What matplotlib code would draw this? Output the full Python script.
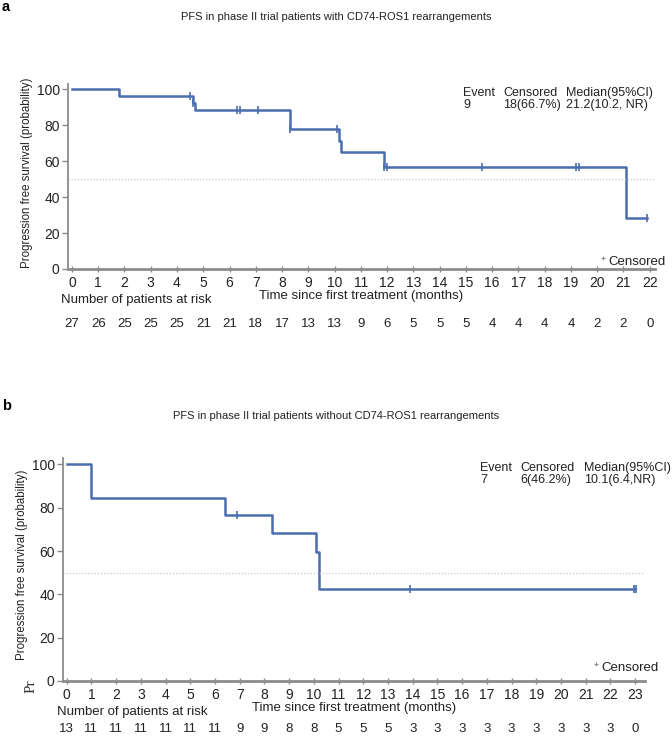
import matplotlib.pyplot as plt

plt.rcParams['font.family'] = ['Liberation Sans', 'DejaVu Sans']

# ---- panel a data ----
a_times = [0, 1.8, 4.6, 4.7, 8.3, 10.15, 10.25, 11.9, 21.1, 21.9]
a_surv = [100, 96.3, 92.3, 88.3, 77.9, 71.4, 64.9, 56.8, 28.4, 28.4]
a_cens_t = [4.5, 4.6, 6.3, 6.4, 7.1, 8.3, 10.1, 11.9, 12.0, 15.6, 19.2, 19.3, 21.9]
a_cens_s = [96.3, 92.3, 88.3, 88.3, 88.3, 77.9, 77.9, 56.8, 56.8, 56.8, 56.8, 56.8, 28.4]
a_months = list(range(0, 23))
a_risk = [27, 26, 25, 25, 25, 21, 21, 18, 17, 13, 13, 9, 6, 5, 5, 5, 4, 4, 4, 4, 2, 2, 0]

# ---- panel b data ----
b_times = [0, 1.0, 6.4, 8.3, 10.1, 10.2, 23.0]
b_surv = [100, 84.6, 76.9, 68.4, 59.8, 42.7, 42.7]
b_cens_t = [6.9, 13.9, 22.95, 23.05]
b_cens_s = [76.9, 42.7, 42.7, 42.7]
b_months = list(range(0, 24))
b_risk = [13, 11, 11, 11, 11, 11, 11, 9, 9, 8, 8, 5, 5, 5, 3, 3, 3, 3, 3, 3, 3, 3, 3, 0]

W, H = 672, 739
fig = plt.figure(figsize=(W / 100, H / 100), dpi=100)
blue = '#4a6db0'
grey = '#8c8c8c'
ink = '#222222'
PT = 0.72  # points per pixel at 100 dpi


def px_axes(l, t, r, b):
    return fig.add_axes([l / W, 1 - b / H, (r - l) / W, (b - t) / H])


def below(ax, x, dy_px, s, ha='center'):
    ax.annotate(s, (x, 0), xycoords=('data', 'axes fraction'), xytext=(0, -dy_px * PT),
                textcoords='offset points', ha=ha, va='center', fontsize=9.5, color=ink,
                annotation_clip=False)


def panel(ax, times, surv, ct, cs, months, risk, xmax, ylab_x, offs, cens_xy):
    ax.step(times, surv, where='post', color=blue, lw=1.8)
    ax.plot(ct, cs, ls='none', marker='|', ms=6, mew=1.2, color=blue)
    ax.axhline(50, color='#c8c8c8', lw=0.9, ls=(0, (1, 1.5)))
    ax.set_xlim(-0.15, xmax)
    ax.set_ylim(0, 103)
    ax.set_yticks([0, 20, 40, 60, 80, 100])
    ax.set_xticks(months)
    for s in ['top', 'right']:
        ax.spines[s].set_visible(False)
    ax.spines['left'].set_color(grey)
    ax.spines['left'].set_linewidth(1.3)
    ax.spines['bottom'].set_color(grey)
    ax.spines['bottom'].set_linewidth(2)
    ax.tick_params(axis='y', colors=grey, labelcolor=ink, length=4, width=1, labelsize=10, pad=2)
    ax.tick_params(axis='x', colors=grey, labelcolor=ink, length=4, width=1, direction='inout',
                   labelsize=10, pad=3)
    ax.set_ylabel('Progression free survival (probability)', fontsize=8.3, color=ink)
    ax.yaxis.set_label_coords(ylab_x, 0.52)
    ax.set_xlabel('Time since first treatment (months)', fontsize=9.5, color=ink, labelpad=0)
    for m, r in zip(months, risk):
        below(ax, m, offs[1], str(r))
    below(ax, -0.4, offs[0], 'Number of patients at risk', ha='left')
    # censored key
    cx, cy = cens_xy
    fig.text((cx + 4) / W, 1 - cy / H, 'Censored', ha='left', va='center', fontsize=9.5, color=ink)
    fig.lines.append(plt.Line2D([(cx - 1) / W], [1 - (cy - 4) / H], transform=fig.transFigure,
                                marker='+', ms=3, mew=0.8, color=grey))


def header(tag, ty, title, cols, y1, vals):
    fig.text(336 / W, 1 - ty / H, title, fontsize=8, ha='center', va='center', color=ink)
    fig.text(2 / W, 1 - (ty - 10) / H, tag, fontsize=10.5, fontweight='bold', va='center')
    for xx, top, bot in zip(cols, ['Event', 'Censored', 'Median(95%CI)'], vals):
        fig.text(xx / W, 1 - y1 / H, top, fontsize=9, color=ink, va='center')
        fig.text(xx / W, 1 - (y1 + 12) / H, bot, fontsize=9, color=ink, va='center')


axa = px_axes(68, 84, 655, 269)
panel(axa, a_times, a_surv, a_cens_t, a_cens_s, a_months, a_risk, 22.2, -0.06, (31, 55),
      (604, 262))
header('a', 17, 'PFS in phase II trial patients with CD74-ROS1 rearrangements',
       (463, 503, 566), 93, ['9', '18(66.7%)', '21.2(10.2, NR)'])

axb = px_axes(63, 458, 645, 681)
panel(axb, b_times, b_surv, b_cens_t, b_cens_s, b_months, b_risk, 23.4, -0.06, (31, 48),
      (597, 668))
header('b', 416, 'PFS in phase II trial patients without CD74-ROS1 rearrangements',
       (480, 520, 584), 468, ['7', '6(46.2%)', '10.1(6.4,NR)'])

fig.text(31 / W, 1 - 686 / H, 'Pr', family='Liberation Serif', fontsize=11, rotation=90,
         ha='center', va='center', color='#333333')

fig.savefig('out.png', dpi=100)
